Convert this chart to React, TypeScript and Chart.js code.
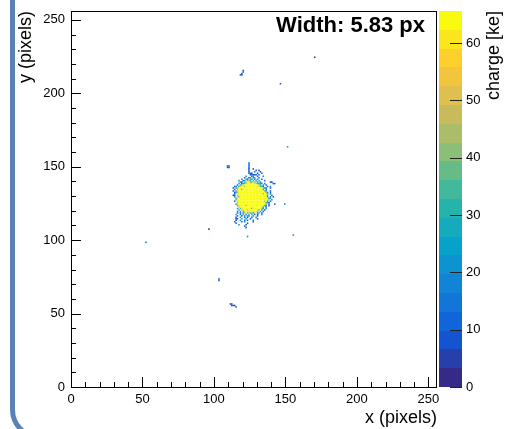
import { useEffect, useRef } from "react";
import { Chart, registerables } from "chart.js";

Chart.register(...registerables);

// Axis ranges (pixel grid of the sensor, charge scale in ke)
const AXIS_MAX = 256;
const CHARGE_MAX = 65.6;
const CHARGE_BANDS = 20;
const WIDTH_LABEL = "Width: 5.83 px";
const X_TITLE = "x (pixels)";
const Y_TITLE = "y (pixels)";
const Z_TITLE = "charge [ke]";

// Symbol -> collected charge (ke) used in the cluster map below
const levelSymbols = "123456789Y";
const levelCharges = [3, 8, 12, 17, 22, 28, 36, 45, 58, 65];

// Main cluster: one string per pixel row, starting at clusterYTop and going down.
// Character index = x - clusterX0, '.' = no hit.
const clusterX0 = 108;
const clusterYTop = 152;
const clusterRows = [
  "................2",
  "................3",
  ".22.............2",
  ".22.............3",
  "................2..2",
  "................3....3.2",
  "................2...4...2",
  "................232...2..3",
  ".................22222.3",
  "..............5...36..2...4",
  ".............3..25.46..3",
  "...........4..63.75.3.5..2",
  ".........6..35.786.7.5.6...3",
  "..........42.78YY8697.4.3......22",
  ".........5.3678YY9YYY87564.4.....23",
  "........3.579YYYYYYYYYY86.5.2",
  "......24.69YY8YYYYYYYY9Y763..3.4",
  ".....2.58YYYYYYYYYYYYYYYYY852..2",
  "......3.8YY7YYYYYYYYYYYYYY6.3",
  ".....2.79YYYYYYYYYYYYYYYYYY74..2",
  "......248YYYYYYYYYYYYYYYYYYY85.3",
  "......3.9YYYYYYYYYYYYYYYYY8YY6.4",
  ".....22.8YYYYYYYYYYYYYYYYYYYY7..3",
  "......5.97YYYYYYYYYYYYYYYYYYY5.4.2",
  ".......69YYYYYYYYYYYYYYYYYYYY964",
  ".......7YYYYYYYYYYYYYYYYYYYYYY8.5",
  "......3.9YYYYYYYYYYYYYYYYYY8Y6.3",
  "........8YYYYYYYYYYYYYYYYYYY762",
  ".......69YYYYYYYYYYYYYYYYYYY8.4...3......4",
  "........79YYYY8YYYYYYYYYYYY74.2",
  ".........8YYYYYYYYYYYYYYYY6.3",
  "........5.79YYYYYY7YYYYYY85.4",
  ".........6.89YY8YYYYYY97.5.2",
  "........4.6.79YY9YY9YY8.6.3",
  "........3.3.58.797869.46.2",
  ".......5..4.6.5.7.5.3.3..4",
  "........2..3.4.65..4..2",
  ".......2..4..3.2..3..5",
  ".......22..6..4..2....2",
  ".......2..5..3.2...4",
  "......2....3.4.....3",
  ".......3.......2",
  ".........5....2",
  ".............2",
  "..............3",
];

// Isolated hits away from the cluster
const strayX = [118, 119, 119, 120, 120, 146, 170, 52, 96, 103, 103, 111, 112, 112, 113, 114, 115, 151, 155, 123];
const strayY = [212, 212, 213, 214, 215, 206, 224, 98, 107, 72, 73, 56, 56, 55, 55, 55, 54, 163, 103, 102];
const strayCharge = [8, 10, 8, 12, 8, 8, 6, 16, 5, 8, 6, 6, 8, 6, 8, 6, 8, 24, 22, 20];

const FONT = "'Liberation Sans', Arial, Helvetica, sans-serif";

// Bird palette stops (dark blue -> teal -> green -> yellow)
const birdStops = [0, 0.125, 0.25, 0.375, 0.5, 0.625, 0.75, 0.875, 1];
const birdR = [0.2082, 0.0592, 0.078, 0.0232, 0.1802, 0.5301, 0.8186, 0.9956, 0.9764];
const birdG = [0.1664, 0.3599, 0.5041, 0.6419, 0.7178, 0.7492, 0.7328, 0.7862, 0.9832];
const birdB = [0.5293, 0.8684, 0.8385, 0.7914, 0.6425, 0.4662, 0.3499, 0.1968, 0.0539];

function birdColor(t: number): string {
  let i = 0;
  while (i < birdStops.length - 2 && t > birdStops[i + 1]) i++;
  const f = (t - birdStops[i]) / (birdStops[i + 1] - birdStops[i]);
  const mix = (a: number[]) => Math.round(255 * (a[i] + (a[i + 1] - a[i]) * f));
  return `rgb(${mix(birdR)},${mix(birdG)},${mix(birdB)})`;
}

const bandColors = Array.from({ length: CHARGE_BANDS }, (_, i) => birdColor(i / (CHARGE_BANDS - 1)));

function chargeColor(q: number): string {
  const idx = Math.max(0, Math.min(CHARGE_BANDS - 1, Math.floor((q / CHARGE_MAX) * CHARGE_BANDS)));
  return bandColors[idx];
}

type Hit = { x: number; y: number; q: number };

function buildHits(): Hit[] {
  const hits: Hit[] = [];
  clusterRows.forEach((row, r) => {
    const y = clusterYTop - r;
    for (let i = 0; i < row.length; i++) {
      const lvl = levelSymbols.indexOf(row[i]);
      if (lvl >= 0) hits.push({ x: clusterX0 + i + 0.5, y: y + 0.5, q: levelCharges[lvl] });
    }
  });
  strayX.forEach((x, k) => hits.push({ x: x + 0.5, y: strayY[k] + 0.5, q: strayCharge[k] }));
  return hits;
}

// Frame, inward tick marks, colour bar and text boxes in the ROOT canvas style
const rootStyle = {
  id: "rootStyle",
  afterDraw(chart: any) {
    const { ctx, chartArea: a, scales } = chart;
    const xs = scales.x;
    const ys = scales.y;
    const zs = scales.z;
    ctx.save();

    // ticks pointing into the frame
    ctx.strokeStyle = "#000";
    ctx.lineWidth = 1;
    ctx.beginPath();
    xs.ticks.forEach((t: any) => {
      const px = Math.round(xs.getPixelForValue(t.value)) + 0.5;
      const len = t.value % 50 === 0 ? 10 : 5;
      ctx.moveTo(px, a.bottom);
      ctx.lineTo(px, a.bottom - len);
    });
    ys.ticks.forEach((t: any) => {
      const py = Math.round(ys.getPixelForValue(t.value)) + 0.5;
      const len = t.value % 50 === 0 ? 10 : 5;
      ctx.moveTo(a.left, py);
      ctx.lineTo(a.left + len, py);
    });
    ctx.stroke();

    // frame
    ctx.strokeRect(Math.round(a.left) + 0.5, Math.round(a.top) + 0.5, Math.round(a.right - a.left) - 1, Math.round(a.bottom - a.top));

    // colour bar
    const barL = a.right + 2;
    const barW = 23;
    for (let i = 0; i < CHARGE_BANDS; i++) {
      const lo = (i * CHARGE_MAX) / CHARGE_BANDS;
      const hi = ((i + 1) * CHARGE_MAX) / CHARGE_BANDS;
      const y0 = zs.getPixelForValue(lo);
      const y1 = zs.getPixelForValue(hi);
      ctx.fillStyle = bandColors[i];
      ctx.fillRect(barL, Math.round(y1), barW, Math.round(y0) - Math.round(y1));
    }
    ctx.strokeStyle = "#222";
    ctx.beginPath();
    zs.ticks.forEach((t: any) => {
      const py = Math.round(zs.getPixelForValue(t.value)) + 0.5;
      ctx.moveTo(barL + barW - 12, py);
      ctx.lineTo(barL + barW, py);
    });
    ctx.stroke();

    // colour bar title
    ctx.fillStyle = "#000";
    ctx.font = `18px ${FONT}`;
    ctx.translate(494, a.top);
    ctx.rotate(-Math.PI / 2);
    ctx.textAlign = "right";
    ctx.textBaseline = "middle";
    ctx.fillText(Z_TITLE, 0, 0);
    ctx.setTransform(1, 0, 0, 1, 0, 0);

    // width label
    ctx.font = `bold 22px ${FONT}`;
    ctx.textAlign = "right";
    ctx.textBaseline = "alphabetic";
    ctx.fillText(WIDTH_LABEL, 425, 32);
    ctx.restore();
  },
};

export default function App() {
  const ref = useRef<HTMLCanvasElement | null>(null);

  useEffect(() => {
    if (!ref.current) return;
    const hits = buildHits();
    const tickFont = { family: FONT, size: 13 };
    const titleFont = { family: FONT, size: 18 };
    // label offsets are given as (undrawn) tick lengths so that they do not
    // add to the scale padding around the plot area
    const grid = (len: number) => ({ display: false, drawTicks: true, tickLength: len });
    const chart = new Chart(ref.current, {
      type: "scatter",
      data: {
        datasets: [
          {
            data: hits.map((h) => ({ x: h.x, y: h.y })),
            pointStyle: "rect",
            borderWidth: 0,
            backgroundColor: hits.map((h) => chargeColor(h.q)),
            pointRadius: (c: any) => {
              const s = c.chart.scales.x;
              return (Math.abs(s.getPixelForValue(1) - s.getPixelForValue(0)) / Math.SQRT2) * 1.08;
            },
          } as any,
        ],
      },
      options: {
        responsive: false,
        animation: false,
        events: [],
        devicePixelRatio: 1,
        layout: { padding: { top: 11, left: 0, right: 0, bottom: 0 } },
        plugins: { legend: { display: false }, tooltip: { enabled: false } },
        scales: {
          x: {
            type: "linear",
            position: "bottom",
            min: 0,
            max: AXIS_MAX,
            grid: grid(5),
            border: { display: false },
            ticks: {
              stepSize: 10,
              includeBounds: false,
              autoSkip: false,
              maxRotation: 0,
              padding: 0,
              color: "#000",
              font: tickFont,
              callback: (v: any) => (v % 50 === 0 ? String(v) : ""),
            },
            title: { display: true, text: X_TITLE, align: "end", color: "#000", font: titleFont, padding: { top: 0, bottom: 0 } },
            afterFit: (s: any) => {
              s.height = 42;
            },
          },
          y: {
            type: "linear",
            position: "left",
            min: 0,
            max: AXIS_MAX,
            grid: grid(6),
            border: { display: false },
            ticks: {
              stepSize: 10,
              includeBounds: false,
              autoSkip: false,
              padding: 0,
              color: "#000",
              font: tickFont,
              callback: (v: any) => (v % 50 === 0 ? String(v) : ""),
            },
            title: { display: true, text: Y_TITLE, align: "end", color: "#000", font: titleFont, padding: { top: 15, bottom: 0 } },
            afterFit: (s: any) => {
              s.width = 71;
            },
          },
          z: {
            type: "linear",
            position: "right",
            min: 0,
            max: CHARGE_MAX,
            grid: grid(29),
            border: { display: false },
            ticks: {
              stepSize: 10,
              includeBounds: false,
              autoSkip: false,
              padding: 0,
              color: "#000",
              font: tickFont,
            },
            afterFit: (s: any) => {
              s.width = 69;
            },
          },
        } as any,
      },
      plugins: [rootStyle],
    });
    return () => chart.destroy();
  }, []);

  return (
    <div style={{ position: "absolute", left: 0, top: 0, width: 506, height: 429, overflow: "hidden", background: "#fff" }}>
      <div
        style={{
          position: "absolute",
          left: 10,
          top: -40,
          width: 600,
          height: 479,
          boxSizing: "border-box",
          borderLeft: "5px solid #5a82b5",
          borderBottom: "5px solid #5a82b5",
          borderBottomLeftRadius: 29,
        }}
      />
      <canvas ref={ref} width={506} height={429} style={{ position: "absolute", left: 0, top: 0 }} />
    </div>
  );
}
